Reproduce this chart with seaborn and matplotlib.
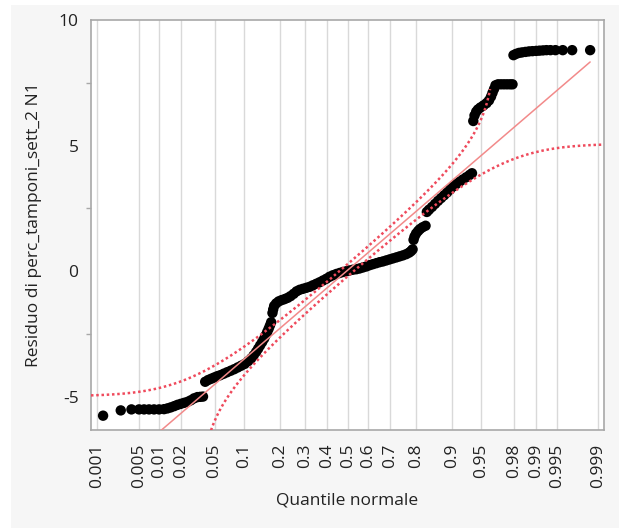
import numpy as np
import matplotlib
matplotlib.use('Agg')
import matplotlib.pyplot as plt
import seaborn as sns
from statistics import NormalDist
from matplotlib.patches import Rectangle

# Points of the normal quantile plot:
# x = normal quantile (z), y = residual
quantile_z = [
    -3.021, -2.803, -2.671, -2.577, -2.515, -2.454, -2.392, -2.330, -2.269, -2.227,
    -2.186, -2.143, -2.104, -2.063, -2.022, -1.980, -1.940, -1.899, -1.857, -1.822,
    -1.788, -1.761, -1.724, -1.687, -1.650, -1.613, -1.576, -1.533, -1.490, -1.446,
    -1.403, -1.360, -1.317, -1.274, -1.231, -1.194, -1.163, -1.132, -1.107, -1.083,
    -1.058, -1.033, -1.015, -0.996, -0.978, -0.962, -0.947, -0.931, -0.922, -0.910,
    -0.885, -0.854, -0.818, -0.781, -0.744, -0.707, -0.670, -0.633, -0.596, -0.555,
    -0.513, -0.472, -0.432, -0.390, -0.349, -0.308, -0.266, -0.226, -0.185, -0.143,
    -0.102, -0.062, -0.020, 0.021, 0.062, 0.104, 0.144, 0.185, 0.227, 0.268,
    0.308, 0.350, 0.391, 0.432, 0.473, 0.514, 0.555, 0.597, 0.637, 0.678,
    0.720, 0.755, 0.779, 0.798, 0.810, 0.822, 0.841, 0.866, 0.890, 0.921,
    0.958, 0.974, 1.001, 1.038, 1.075, 1.112, 1.149, 1.186, 1.223, 1.260,
    1.297, 1.337, 1.377, 1.418, 1.460, 1.501, 1.531, 1.547, 1.562, 1.583,
    1.605, 1.636, 1.673, 1.710, 1.741, 1.766, 1.784, 1.803, 1.821, 1.852,
    1.889, 1.926, 1.963, 2.000, 2.031, 2.043, 2.074, 2.111, 2.148, 2.191,
    2.234, 2.277, 2.323, 2.364, 2.407, 2.450, 2.499, 2.561, 2.651, 2.767,
    2.989,
]
residual = [
    -5.75, -5.54, -5.50, -5.50, -5.50, -5.50, -5.50, -5.50, -5.49, -5.46,
    -5.42, -5.37, -5.32, -5.28, -5.24, -5.20, -5.14, -5.06, -5.01, -5.00,
    -4.99, -4.40, -4.33, -4.28, -4.23, -4.18, -4.14, -4.08, -4.02, -3.96,
    -3.90, -3.83, -3.76, -3.69, -3.58, -3.47, -3.35, -3.21, -3.08, -2.95,
    -2.82, -2.68, -2.55, -2.42, -2.29, -2.16, -2.03, -1.66, -1.52, -1.38,
    -1.28, -1.20, -1.15, -1.11, -1.06, -0.99, -0.90, -0.80, -0.74, -0.70,
    -0.66, -0.62, -0.56, -0.50, -0.44, -0.37, -0.30, -0.22, -0.16, -0.11,
    -0.07, -0.03, 0.00, 0.03, 0.06, 0.08, 0.11, 0.15, 0.19, 0.24,
    0.28, 0.32, 0.36, 0.39, 0.43, 0.47, 0.51, 0.55, 0.59, 0.63,
    0.68, 0.74, 0.80, 0.87, 1.25, 1.38, 1.50, 1.60, 1.68, 1.75,
    1.81, 2.36, 2.45, 2.56, 2.68, 2.80, 2.91, 3.02, 3.13, 3.25,
    3.37, 3.47, 3.56, 3.65, 3.74, 3.83, 3.90, 5.98, 6.20, 6.35,
    6.44, 6.52, 6.60, 6.69, 6.80, 6.95, 7.10, 7.25, 7.40, 7.44,
    7.44, 7.44, 7.44, 7.44, 7.44, 8.60, 8.65, 8.69, 8.71, 8.73,
    8.75, 8.76, 8.77, 8.78, 8.79, 8.80, 8.80, 8.80, 8.80, 8.80,
    8.80,
]

# Normal fit (mean, sd) and Lilliefors band half-width (probability scale)
fit_mu = 0.05
fit_sigma = 2.77
band_d = 0.035

prob_ticks = [0.001, 0.005, 0.01, 0.02, 0.05, 0.1, 0.2, 0.3, 0.4, 0.5,
              0.6, 0.7, 0.8, 0.9, 0.95, 0.98, 0.99, 0.995, 0.999]
prob_labels = ['0.001', '0.005', '0.01', '0.02', '0.05', '0.1', '0.2', '0.3', '0.4', '0.5',
               '0.6', '0.7', '0.8', '0.9', '0.95', '0.98', '0.99', '0.995', '0.999']

sns.set_style('white')
plt.rcParams['font.family'] = ['Open Sans', 'DejaVu Sans']
plt.rcParams['axes.unicode_minus'] = False

nd = NormalDist()
text_col = '#222222'
frame_col = '#a8a8a8'

fig = plt.figure(figsize=(6.19, 5.31), dpi=100, facecolor='white')
fig.patches.append(Rectangle((11 / 619, 3 / 531), 608 / 619, 523 / 531,
                             transform=fig.transFigure, facecolor='#f6f6f6',
                             edgecolor='none', zorder=-10))
ax = fig.add_axes([91 / 619, 1 - 430 / 531, 513 / 619, 410 / 531])
ax.set_facecolor('white')

# data points
sns.scatterplot(x=quantile_z, y=residual, color='black', s=56, edgecolor='none',
                ax=ax, zorder=3, legend=False)

# fitted normal line over the data range
line_z = np.array([min(quantile_z), max(quantile_z)])
sns.lineplot(x=line_z, y=fit_mu + fit_sigma * line_z, color='#f28a8a', lw=1.1,
             estimator=None, sort=False, ax=ax, zorder=4)

# confidence bands
zg = np.linspace(-3.17, 3.16, 600)
pg = np.array([nd.cdf(v) for v in zg])
hi_p = pg + band_d
keep = hi_p < 0.996
hi_y = fit_mu + fit_sigma * np.array([nd.inv_cdf(q) for q in hi_p[keep]])
lo_p = pg - band_d
keep2 = lo_p > 0.004
lo_y = fit_mu + fit_sigma * np.array([nd.inv_cdf(q) for q in lo_p[keep2]])
for xx, yy in [(zg[keep], hi_y), (zg[keep2], lo_y)]:
    sns.lineplot(x=xx, y=yy, color='#ef4a5c', lw=1.8, linestyle=(0, (1.0, 1.1)),
                 estimator=None, sort=False, ax=ax, zorder=4)

ax.set_xlim(-3.17, 3.16)
ax.set_ylim(-6.32, 10)

ax.set_xticks([nd.inv_cdf(p) for p in prob_ticks])
ax.set_xticklabels(prob_labels, rotation=90)
ax.set_yticks([-5, 0, 5, 10])
ax.set_yticks([-2.5, 2.5, 7.5], minor=True)
ax.set_yticklabels(['-5', '0', '5', '10'])

ax.grid(axis='x', color='#d9d9d9', lw=1)
ax.grid(axis='y', visible=False)
ax.set_axisbelow(True)

for sp in ax.spines.values():
    sp.set_visible(True)
    sp.set_color(frame_col)
    sp.set_linewidth(1.2)

ax.tick_params(axis='both', which='major', direction='out', length=7, width=1,
               color=frame_col, labelsize=12.5, labelcolor=text_col)
ax.tick_params(axis='x', pad=3)
ax.tick_params(axis='y', pad=2)
ax.tick_params(axis='y', which='minor', direction='out', length=3.5, width=1,
               color=frame_col, left=True)

ax.set_xlabel('Quantile normale', fontsize=12.5, color=text_col)
ax.set_ylabel('Residuo di perc_tamponi_sett_2 N1', fontsize=12.5, color=text_col)
ax.xaxis.set_label_coords(0.5, -0.152)
ax.yaxis.set_label_coords(-0.096, 0.5)

fig.savefig('out.png', dpi=100, facecolor=fig.get_facecolor())
